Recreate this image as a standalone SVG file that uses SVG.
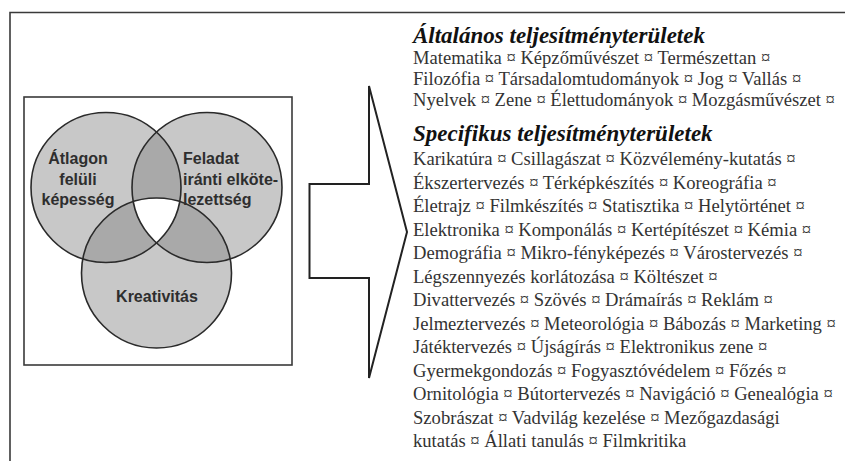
<svg xmlns="http://www.w3.org/2000/svg" width="845" height="461" viewBox="0 0 845 461">
<style>
.frame{fill:none;stroke:#3a3a3a;stroke-width:1.6}
.circ{fill:#c8c8c8}
.ov{fill:#a9a9a9}
.edge{fill:none;stroke:#2a2a2a;stroke-width:1.6}
.vl{font-family:"Liberation Sans",Arial,sans-serif;font-weight:bold;font-size:16px;fill:#2e2e2e}
.h{font-family:"Liberation Serif","Times New Roman",serif;font-weight:bold;font-style:italic;font-size:23px;fill:#111}
.b{font-family:"Liberation Serif","Times New Roman",serif;font-size:18.6px;fill:#333}
.arrow{fill:#fff;stroke:#222;stroke-width:2;stroke-linejoin:miter}
</style>
<defs>
<clipPath id="cA"><circle cx="106" cy="187.5" r="75"/></clipPath>
<clipPath id="cB"><circle cx="207" cy="187.5" r="75"/></clipPath>
</defs>
<rect width="845" height="461" fill="#fff"/>
<path class="frame" d="M10,461 V12.5 H845"/>
<g id="venn">
<rect class="frame" x="24" y="97" width="268" height="268"/>
<g id="node-atlagon">
<circle class="circ" cx="106" cy="187.5" r="75"/>
</g>
<g id="node-feladat">
<circle class="circ" cx="207" cy="187.5" r="75"/>
</g>
<g id="node-kreativitas">
<circle class="circ" cx="156.5" cy="273" r="75"/>
</g>
<g id="overlaps">
<circle class="ov" cx="207" cy="187.5" r="75" clip-path="url(#cA)"/>
<circle class="ov" cx="156.5" cy="273" r="75" clip-path="url(#cA)"/>
<circle class="ov" cx="156.5" cy="273" r="75" clip-path="url(#cB)"/>
<g clip-path="url(#cB)"><circle fill="#fff" cx="156.5" cy="273" r="75" clip-path="url(#cA)"/></g>
</g>
<circle class="edge" cx="106" cy="187.5" r="75"/>
<circle class="edge" cx="207" cy="187.5" r="75"/>
<circle class="edge" cx="156.5" cy="273" r="75"/>
<text class="vl" text-anchor="middle" x="78" y="164">Átlagon</text>
<text class="vl" text-anchor="middle" x="78" y="184.5">felüli</text>
<text class="vl" text-anchor="middle" x="78" y="205">képesség</text>
<text class="vl" x="183" y="164">Feladat</text>
<text class="vl" x="183" y="184.5">iránti elköte-</text>
<text class="vl" x="183" y="205">lezettség</text>
<text class="vl" text-anchor="middle" x="157" y="302">Kreativitás</text>
</g>
<g id="connectors">
<path class="arrow" d="M309.5,184 H369 V86 L407,232 L369,378 V278 H309.5 Z"/>
</g>
<g id="node-altalanos">
<text class="h" x="413" y="43">Általános teljesítményterületek</text>
<text class="b" x="413" y="64">Matematika ¤ Képzőművészet ¤ Természettan ¤</text>
<text class="b" x="413" y="85">Filozófia ¤ Társadalomtudományok ¤ Jog ¤ Vallás ¤</text>
<text class="b" x="413" y="106">Nyelvek ¤ Zene ¤ Élettudományok ¤ Mozgásművészet ¤</text>
</g>
<g id="node-specifikus">
<text class="h" x="413" y="141">Specifikus teljesítményterületek</text>
<text class="b" x="413" y="165">Karikatúra ¤ Csillagászat ¤ Közvélemény-kutatás ¤</text>
<text class="b" x="413" y="188.5">Ékszertervezés ¤ Térképkészítés ¤ Koreográfia ¤</text>
<text class="b" x="413" y="212">Életrajz ¤ Filmkészítés ¤ Statisztika ¤ Helytörténet ¤</text>
<text class="b" x="413" y="235.5">Elektronika ¤ Komponálás ¤ Kertépítészet ¤ Kémia ¤</text>
<text class="b" x="413" y="259">Demográfia ¤ Mikro-fényképezés ¤ Várostervezés ¤</text>
<text class="b" x="413" y="282.5">Légszennyezés korlátozása ¤ Költészet ¤</text>
<text class="b" x="413" y="306">Divattervezés ¤ Szövés ¤ Drámaírás ¤ Reklám ¤</text>
<text class="b" x="413" y="329.5">Jelmeztervezés ¤ Meteorológia ¤ Bábozás ¤ Marketing ¤</text>
<text class="b" x="413" y="353">Játéktervezés ¤ Újságírás ¤ Elektronikus zene ¤</text>
<text class="b" x="413" y="376.5">Gyermekgondozás ¤ Fogyasztóvédelem ¤ Főzés ¤</text>
<text class="b" x="413" y="400">Ornitológia ¤ Bútortervezés ¤ Navigáció ¤ Genealógia ¤</text>
<text class="b" x="413" y="423.5">Szobrászat ¤ Vadvilág kezelése ¤ Mezőgazdasági</text>
<text class="b" x="413" y="447">kutatás ¤ Állati tanulás ¤ Filmkritika</text>
</g>
</svg>
